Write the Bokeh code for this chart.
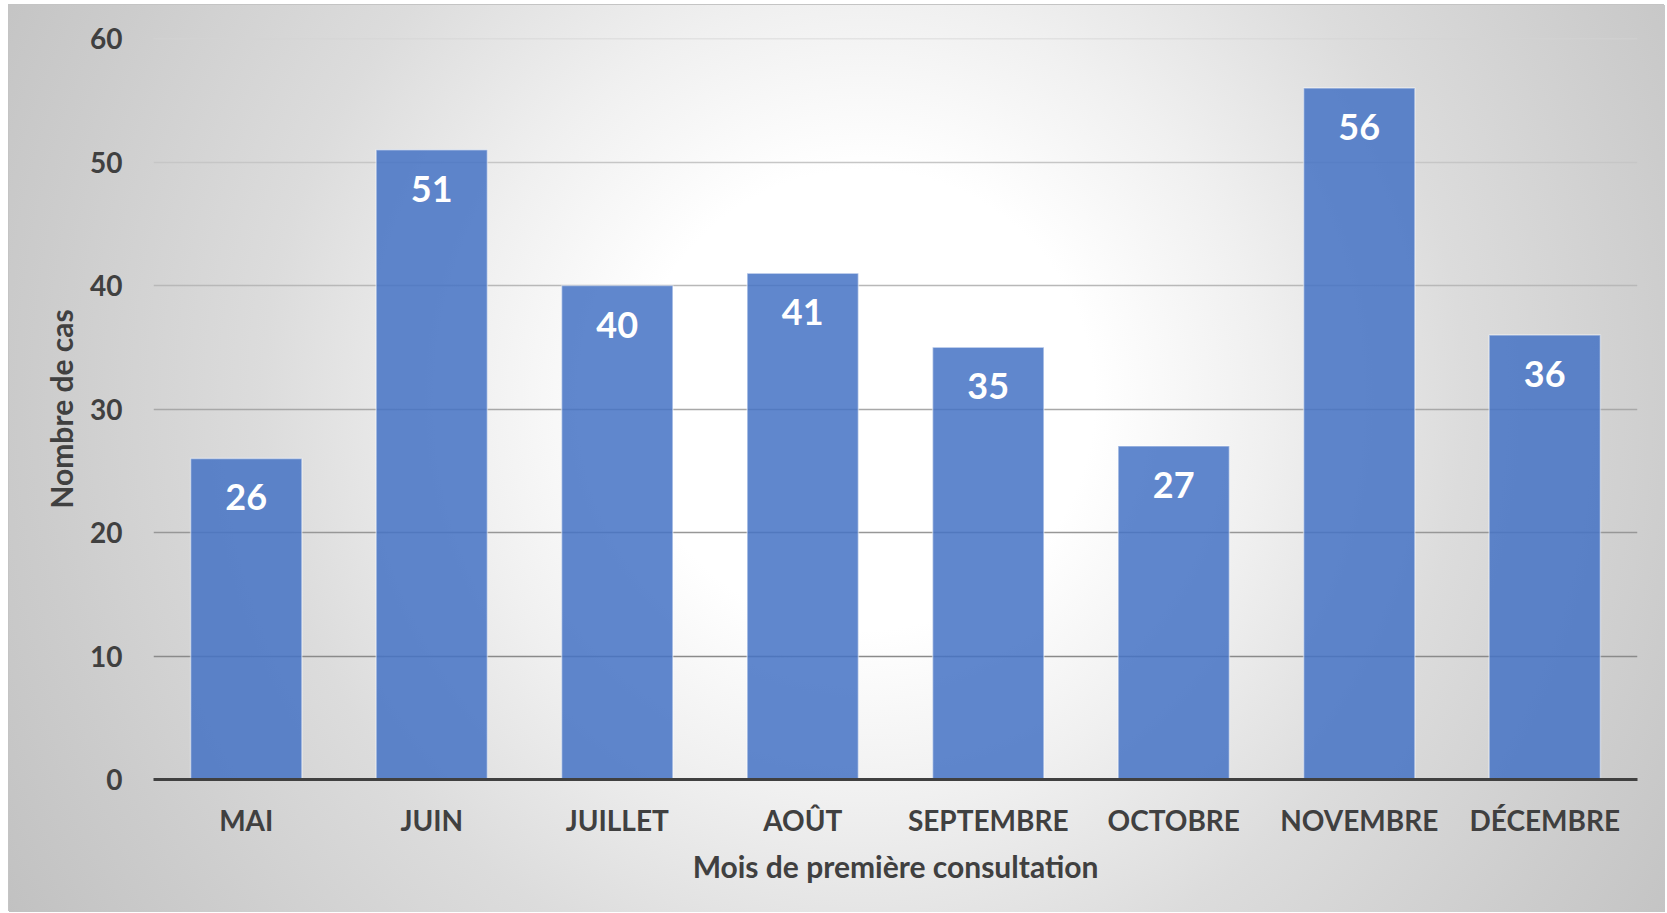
from bokeh.plotting import figure
from bokeh.models import ColumnDataSource, FactorRange, Range1d, FixedTicker
from bokeh.embed import file_html
from bokeh.resources import INLINE
from bokeh.core.properties import value

# ---- data ----
months = ["MAI", "JUIN", "JUILLET", "AOÛT", "SEPTEMBRE", "OCTOBRE", "NOVEMBRE", "DÉCEMBRE"]
cases = [26, 51, 40, 41, 35, 27, 56, 36]
y_ticks = [0, 10, 20, 30, 40, 50, 60]
grid_levels = [10, 20, 30, 40, 50, 60]
grid_colors = ["#8a8a8a", "#979797", "#a8a8a8", "#b8b8b8", "#c6c6c6", "#d3d3d3"]
x_title = "Mois de première consultation"
y_title = "Nombre de cas"

FONT = "Lato"
TXT = "#404040"

src = ColumnDataSource(dict(month=months, cases=cases, label=[str(c) for c in cases]))

p = figure(
    width=1656, height=907,
    x_range=FactorRange(factors=months, range_padding=0),
    y_range=Range1d(0, 60),
    output_backend="svg", toolbar_location=None,
    min_border_left=144, min_border_right=28, min_border_top=33, min_border_bottom=133,
)
p.background_fill_alpha = 0
p.border_fill_alpha = 0
p.outline_line_color = None
p.styles = {
    "background": "radial-gradient(circle at 855px 395px, #ffffff 0px, #ffffff 230px, "
                  "#f0f0f0 400px, #dcdcdc 600px, #cccccc 830px, #c1c1c1 1000px)",
    "margin": "5px 0px 0px 9px",
    "box-shadow": "-1px -1px 0px #c4c4c4",
}

p.xgrid.visible = False
p.ygrid.visible = False

# gridlines (darker towards the bottom)
p.hspan(y=grid_levels, line_color=grid_colors, line_width=1.3)

p.vbar(x="month", top="cases", width=0.6, source=src,
       fill_color="#4472C4", fill_alpha=0.85,
       line_color="#ffffff", line_alpha=0.45, line_width=1.5)

p.text(x="month", y="cases", text="label", source=src,
       text_align="center", text_baseline="alphabetic", y_offset=39,
       text_color="white", text_font=value(FONT), text_font_style="bold",
       text_font_size="36px")

# y axis
p.yaxis.ticker = FixedTicker(ticks=y_ticks)
p.yaxis.axis_line_color = None
p.yaxis.major_tick_line_color = None
p.yaxis.minor_tick_line_color = None
p.yaxis.major_label_standoff = 25
p.yaxis.axis_label = y_title
p.yaxis.axis_label_standoff = 8

# x axis
p.xaxis.axis_line_color = TXT
p.xaxis.axis_line_width = 3
p.xaxis.major_tick_line_color = None
p.xaxis.minor_tick_line_color = None
p.xaxis.major_label_standoff = 17
p.xaxis.axis_label = x_title
p.xaxis.axis_label_standoff = 8

for ax in (p.xaxis[0], p.yaxis[0]):
    ax.major_label_text_font = FONT
    ax.major_label_text_font_style = "bold"
    ax.major_label_text_font_size = "28px"
    ax.major_label_text_color = TXT
    ax.axis_label_text_font = FONT
    ax.axis_label_text_font_style = "bold"
    ax.axis_label_text_font_size = "30px"
    ax.axis_label_text_color = TXT

open("out.html", "w").write(file_html(p, INLINE))
